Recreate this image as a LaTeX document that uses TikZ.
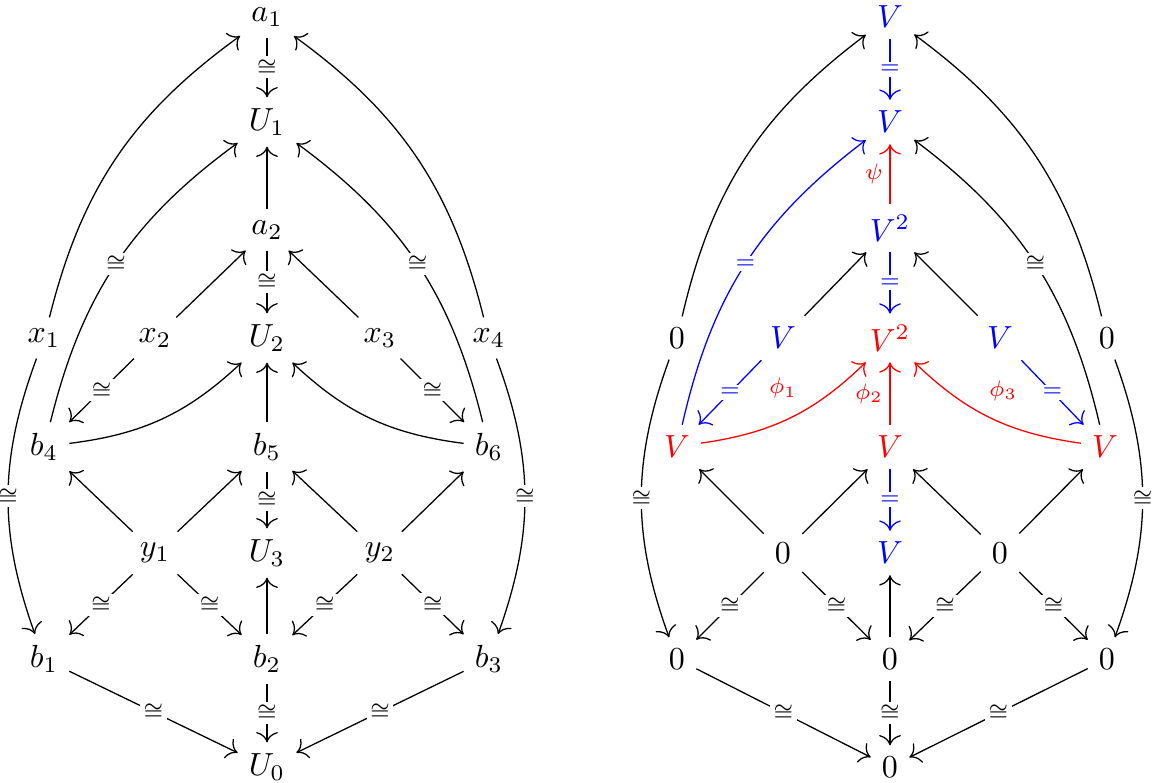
\documentclass[tikz,border=0pt]{standalone}
\usetikzlibrary{arrows.meta}
\begin{document}
\begin{tikzpicture}[x=0.3125pt,y=-0.3125pt,
  map/.style={-{Computer Modern Rightarrow[scale=1.3]}},
  iso/.style={fill=white,inner sep=1pt,font=\scriptsize},
  lbl/.style={font=\scriptsize,inner sep=2pt}]
\useasboundingbox (0,0) rectangle (1152,783);
% left square of spaces
\node (a1) at (267,17) {$a_1$};
\node (U1) at (267,122) {$U_1$};
\node (a2) at (267,230) {$a_2$};
\node (U2) at (267,338) {$U_2$};
\node (x1) at (44,338) {$x_1$};
\node (x2) at (155,338) {$x_2$};
\node (x3) at (380,338) {$x_3$};
\node (x4) at (489,338) {$x_4$};
\node (b4) at (44,447) {$b_4$};
\node (b5) at (267,447) {$b_5$};
\node (b6) at (489,447) {$b_6$};
\node (y1) at (155,553) {$y_1$};
\node (U3) at (267,553) {$U_3$};
\node (y2) at (380,553) {$y_2$};
\node (b1) at (44,659) {$b_1$};
\node (b2) at (267,659) {$b_2$};
\node (b3) at (489,659) {$b_3$};
\node (U0) at (267,767) {$U_0$};
\foreach \s/\t in {a2/U1,x2/a2,x3/a2,b5/U2,y1/b4,y1/b5,y2/b5,y2/b6,b2/U3}
  \draw[map] (\s)--(\t);
\foreach \s/\t in {a1/U1,a2/U2,b5/U3,b2/U0,x2/b4,x3/b6,y1/b1,y1/b2,y2/b2,y2/b3,b1/U0,b3/U0}
  \draw[map] (\s)-- node[iso]{$\cong$} (\t);
\draw[map] (x1) to[bend left=20] (a1);
\draw[map] (x4) to[bend right=20] (a1);
\draw[map] (x1) to[bend right=20] node[iso]{$\cong$} (b1);
\draw[map] (x4) to[bend left=20] node[iso]{$\cong$} (b3);
\draw[map] (b4) to[bend left=20] node[iso]{$\cong$} (U1);
\draw[map] (b6) to[bend right=20] node[iso]{$\cong$} (U1);
\draw[map] (b4) to[bend right=18] (U2);
\draw[map] (b6) to[bend left=18] (U2);
% right square, evaluated
\node[blue] (ra1) at (890,17) {$V$};
\node[blue] (rU1) at (890,122) {$V$};
\node[blue] (ra2) at (890,228) {$V^2$};
\node[red] (rU2) at (890,338) {$V^2$};
\node (rx1) at (677,338) {$0$};
\node[blue] (rx2) at (783,338) {$V$};
\node[blue] (rx3) at (1000,338) {$V$};
\node (rx4) at (1107,338) {$0$};
\node[red] (rb4) at (677,447) {$V$};
\node[red] (rb5) at (890,447) {$V$};
\node[red] (rb6) at (1105,447) {$V$};
\node (ry1) at (783,553) {$0$};
\node[blue] (rU3) at (890,553) {$V$};
\node (ry2) at (1000,553) {$0$};
\node (rb1) at (677,659) {$0$};
\node (rb2) at (890,659) {$0$};
\node (rb3) at (1107,659) {$0$};
\node (rU0) at (890,767) {$0$};
\foreach \s/\t in {rx2/ra2,rx3/ra2,ry1/rb4,ry1/rb5,ry2/rb5,ry2/rb6,rb2/rU3}
  \draw[map] (\s)--(\t);
\foreach \s/\t in {rb2/rU0,ry1/rb1,ry1/rb2,ry2/rb2,ry2/rb3,rb1/rU0,rb3/rU0}
  \draw[map] (\s)-- node[iso]{$\cong$} (\t);
\foreach \s/\t in {ra1/rU1,ra2/rU2,rb5/rU3,rx2/rb4,rx3/rb6}
  \draw[map,blue] (\s)-- node[iso]{$=$} (\t);
\draw[map,red] (ra2)-- node[lbl,left]{$\psi$} (rU1);
\draw[map,red] (rb5)-- node[lbl,left]{$\phi_2$} (rU2);
\draw[map,red] (rb4) to[bend right=18] node[lbl,above=5pt,pos=0.45]{$\phi_1$} (rU2);
\draw[map,red] (rb6) to[bend left=18] node[lbl,above=5pt,pos=0.42]{$\phi_3$} (rU2);
\draw[map] (rx1) to[bend left=20] (ra1);
\draw[map] (rx4) to[bend right=20] (ra1);
\draw[map] (rx1) to[bend right=20] node[iso]{$\cong$} (rb1);
\draw[map] (rx4) to[bend left=20] node[iso]{$\cong$} (rb3);
\draw[map,blue] (rb4) to[bend left=20] node[iso]{$=$} (rU1);
\draw[map] (rb6) to[bend right=20] node[iso]{$\cong$} (rU1);
\end{tikzpicture}
\end{document}
